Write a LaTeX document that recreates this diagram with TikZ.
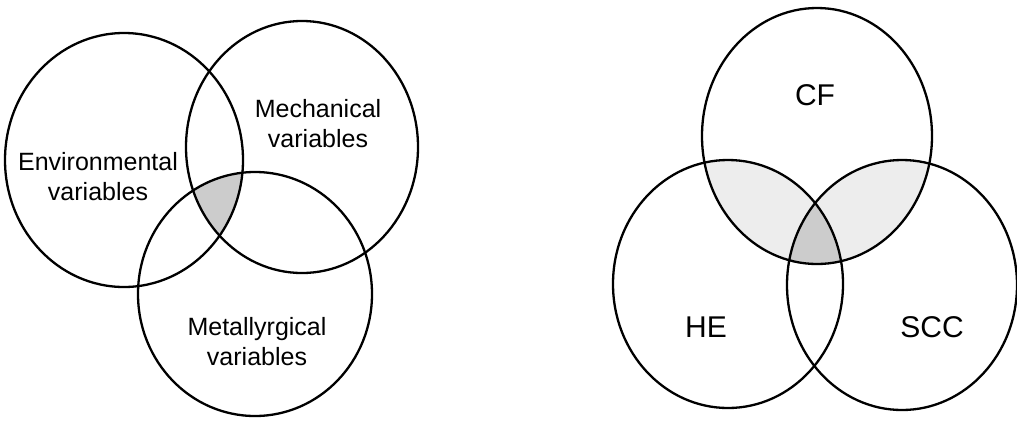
\documentclass[tikz,border=0pt]{standalone}
\usepackage{fontspec}
\setmainfont{Liberation Sans}
\begin{document}
\begin{tikzpicture}[x=1pt,y=-1pt,
  ring/.style={draw=black,line width=2.3pt},
  lightshade/.style={fill=black!7},
  darkshade/.style={fill=black!20},
  smalllab/.style={font=\fontsize{25}{30}\selectfont,align=center,inner sep=0pt},
  biglab/.style={font=\fontsize{30}{34}\selectfont,inner sep=0pt}]
\useasboundingbox (0,0) rectangle (1017,421);
% geometry
\def\envpath{(124,160) ellipse [x radius=119pt, y radius=127pt]}
\def\mechpath{(302,147) ellipse [x radius=116pt, y radius=126pt]}
\def\metpath{(255,294) ellipse [x radius=117pt, y radius=122pt]}
\def\cfpath{(817,136) ellipse [x radius=115pt, y radius=128pt]}
\def\hepath{(728,284) ellipse [x radius=115pt, y radius=124pt]}
\def\sccpath{(902,285) ellipse [x radius=115pt, y radius=125pt]}
% left shading: triple intersection
\begin{scope}
  \clip \envpath;
  \clip \mechpath;
  \fill[darkshade] \metpath;
\end{scope}
% right shading
\begin{scope}
  \clip \cfpath;
  \fill[lightshade] \hepath;
  \fill[lightshade] \sccpath;
\end{scope}
\begin{scope}
  \clip \cfpath;
  \clip \hepath;
  \fill[darkshade] \sccpath;
\end{scope}
% outlines
\draw[ring] \envpath;
\draw[ring] \mechpath;
\draw[ring] \metpath;
\draw[ring] \cfpath;
\draw[ring] \hepath;
\draw[ring] \sccpath;
% labels
\node[smalllab] (envlab) at (98,177) {Environmental\\variables};
\node[smalllab] (mechlab) at (318,124) {Mechanical\\variables};
\node[smalllab] (metlab) at (257,342) {Metallyrgical\\variables};
\node[biglab] (cflab) at (815,95) {CF};
\node[biglab] (helab) at (706,327) {HE};
\node[biglab] (scclab) at (932,327) {SCC};
\end{tikzpicture}
\end{document}
